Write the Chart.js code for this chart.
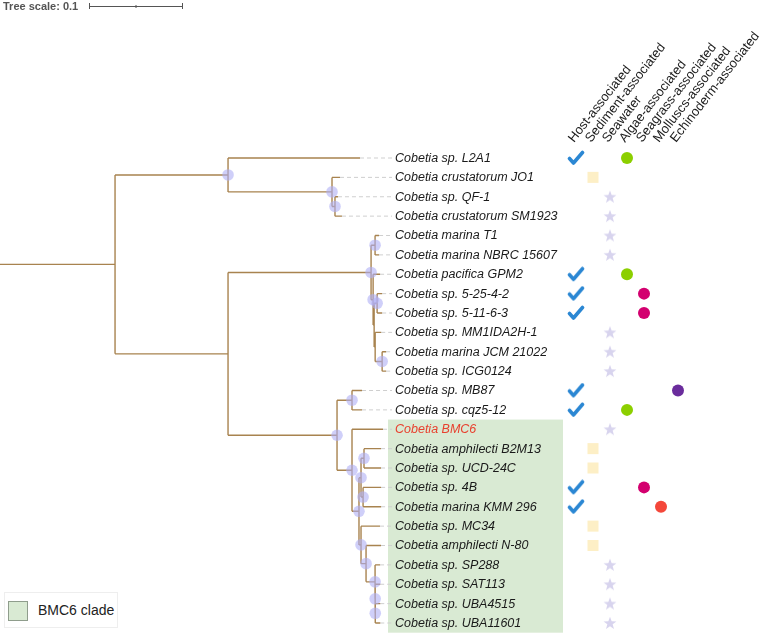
<!DOCTYPE html>
<html>
<head>
<meta charset="utf-8">
<script src="https://cdn.jsdelivr.net/npm/chart.js@4.4.0/dist/chart.umd.min.js"></script>
<style>
  html, body { margin: 0; padding: 0; background: #fff; }
  #wrap { position: relative; width: 760px; height: 637px; }
  #legend { position: absolute; left: 4px; top: 592px; width: 112px; height: 34px; border: 1px solid #eee; background: #fff;
    font: 14px "Liberation Sans", Arial, sans-serif; color: #222; }
  #legend .sw { position: absolute; left: 3px; top: 8px; width: 18px; height: 18px; background: #d9ead3; border: 1px solid #8f9d8c; }
  #legend span { position: absolute; left: 33px; top: 9px; }
</style>
</head>
<body>
<div id="wrap">
  <canvas id="treeChart" width="760" height="637"></canvas>
  <div id="legend"><div class="sw"></div><span>BMC6 clade</span></div>
</div>
<script>
// leaf names, in the order they appear top to bottom
const leafNames = [
  'Cobetia sp. L2A1', 'Cobetia crustatorum JO1', 'Cobetia sp. QF-1', 'Cobetia crustatorum SM1923',
  'Cobetia marina T1', 'Cobetia marina NBRC 15607', 'Cobetia pacifica GPM2', 'Cobetia sp. 5-25-4-2',
  'Cobetia sp. 5-11-6-3', 'Cobetia sp. MM1IDA2H-1', 'Cobetia marina JCM 21022', 'Cobetia sp. ICG0124',
  'Cobetia sp. MB87', 'Cobetia sp. cqz5-12', 'Cobetia BMC6', 'Cobetia amphilecti B2M13',
  'Cobetia sp. UCD-24C', 'Cobetia sp. 4B', 'Cobetia marina KMM 296', 'Cobetia sp. MC34',
  'Cobetia amphilecti N-80', 'Cobetia sp. SP288', 'Cobetia sp. SAT113', 'Cobetia sp. UBA4515',
  'Cobetia sp. UBA11601'
];

const habitatLabels = [
  'Host-associated', 'Sediment-associated', 'Seawater', 'Algae-associated',
  'Seagrass-associated', 'Molluscs-associated', 'Echinoderm-associated'
];

// habitat columns for each leaf
const leafHabitats = [
  [0, 3], [1], [2], [2], [2], [2], [0, 3], [0, 4], [0, 4], [2], [2], [2],
  [0, 6], [0, 3], [2], [1], [1], [0, 4], [0, 5], [1], [1], [2], [2], [2], [2]
];

// tree topology with branch lengths; leaves are indices into leafNames, * = supported node
const treeNewick =
  '(((0:0.1419,(1:0.0086,(2:0.0032,3:0.0075)*:0.0032)*:0.1118)*:0.1215,' +
  '(((4:0.0043,5:0.0043)*:0.0043,(6:0.0075,((7:0.0054,8:0.0054)*:0.0032,(9:0.0065,(10:0.0043,11:0.0043)*:0.0075):0.0011):0.0011)*:0.0022)*:0.1538,' +
  '((12:0.0108,13:0.0108)*:0.0161,(14:0.0333,(((15:0.0183,16:0.0183)*:0.0032,(17:0.0194,18:0.0194)*:0.0022)*:0.0022,' +
  '(19:0.0204,(20:0.0161,(21:0.0054,(22:0.0054,(23:0.0054,24:0.0054)*:0.0001)*:0.0001)*:0.0097)*:0.0054)*:0.0022)*:0.0075)*:0.0161)*:0.1172):0.1215):0.1237';

const highlightLeaf = 14;
const cladeRange = [14, 24];
const treeScaleLength = 0.1;
const guideEnd = 0.4215;

const habitatColors = ['#2b87d3', '#fdefc6', '#d8d4ee', '#8ccf00', '#d3006f', '#f4473a', '#6a2c9c'];

function parseNewick(s) {
  let i = 0;
  function node() {
    const n = { children: [], len: 0, mark: false };
    if (s[i] === '(') {
      i++;
      n.children.push(node());
      while (s[i] === ',') { i++; n.children.push(node()); }
      i++;
    }
    let label = '';
    while (i < s.length && !':,()'.includes(s[i])) label += s[i++];
    if (n.children.length) n.mark = label === '*';
    else n.leaf = parseInt(label, 10);
    if (s[i] === ':') {
      i++;
      let num = '';
      while (i < s.length && !',()'.includes(s[i])) num += s[i++];
      n.len = parseFloat(num);
    }
    return n;
  }
  return node();
}

function layout(n, x0) {
  n.x = x0 + n.len;
  if (n.children.length) {
    n.children.forEach(c => layout(c, n.x));
    n.y = (n.children[0].y + n.children[n.children.length - 1].y) / 2;
  } else {
    n.y = n.leaf;
  }
}

const root = parseNewick(treeNewick);
layout(root, 0);

const branchPts = [], nodePts = [], guidePts = [];
function walk(n, px) {
  branchPts.push({ x: px, y: n.y }, { x: n.x, y: n.y }, { x: null, y: null });
  if (n.children.length) {
    const a = n.children[0], b = n.children[n.children.length - 1];
    branchPts.push({ x: n.x, y: a.y }, { x: n.x, y: b.y }, { x: null, y: null });
    if (n.mark) nodePts.push({ x: n.x, y: n.y });
    n.children.forEach(c => walk(c, n.x));
  } else {
    guidePts.push({ x: n.x, y: n.y }, { x: guideEnd, y: n.y }, { x: null, y: null });
  }
}
walk(root, 0);

// custom marker images
function makeCheck() {
  const c = document.createElement('canvas');
  c.width = 18; c.height = 16;
  const g = c.getContext('2d');
  g.strokeStyle = habitatColors[0];
  g.lineWidth = 3.6;
  g.lineCap = 'round';
  g.lineJoin = 'round';
  g.beginPath();
  g.moveTo(2.5, 8.5);
  g.lineTo(6.5, 13);
  g.lineTo(15.5, 2.5);
  g.stroke();
  return c;
}
function makeStar() {
  const c = document.createElement('canvas');
  c.width = 14; c.height = 14;
  const g = c.getContext('2d');
  g.fillStyle = habitatColors[2];
  g.beginPath();
  for (let k = 0; k < 10; k++) {
    const r = k % 2 ? 2.8 : 6.8;
    const a = -Math.PI / 2 + k * Math.PI / 5;
    g.lineTo(7 + r * Math.cos(a), 7.5 + r * Math.sin(a));
  }
  g.closePath();
  g.fill();
  return c;
}
const checkImg = makeCheck();
const starImg = makeStar();

const markerStyle = [
  { pointStyle: checkImg, pointRadius: 8 },
  { pointStyle: 'rect', pointRadius: 7.8 },
  { pointStyle: starImg, pointRadius: 7 },
  { pointStyle: 'circle', pointRadius: 6 },
  { pointStyle: 'circle', pointRadius: 6 },
  { pointStyle: 'circle', pointRadius: 6 },
  { pointStyle: 'circle', pointRadius: 6 }
];

const habitatDatasets = habitatLabels.map((label, col) => ({
  label: label,
  data: leafHabitats.map((h, i) => h.includes(col) ? { x: col, y: i } : null).filter(Boolean),
  xAxisID: 'xc',
  showLine: false,
  pointStyle: markerStyle[col].pointStyle,
  pointRadius: markerStyle[col].pointRadius,
  pointBackgroundColor: habitatColors[col],
  pointBorderWidth: 0,
  order: 1
}));

const treeDecor = {
  id: 'treeDecor',
  beforeDatasetsDraw(chart) {
    const { ctx, scales: { x, y } } = chart;
    // clade box
    const top = y.getPixelForValue(cladeRange[0] - 0.5);
    const bot = y.getPixelForValue(cladeRange[1] + 0.5);
    ctx.save();
    ctx.fillStyle = '#d9ead3';
    ctx.fillRect(x.getPixelForValue(guideEnd) - 4, top, 175, bot - top);
    ctx.restore();
  },
  afterDatasetsDraw(chart) {
    const { ctx, scales: { x, y, xc } } = chart;
    ctx.save();
    // leaf labels
    ctx.font = 'italic 12.5px "Liberation Sans", Arial, sans-serif';
    ctx.textBaseline = 'middle';
    const lx = x.getPixelForValue(guideEnd) + 3;
    leafNames.forEach((name, i) => {
      ctx.fillStyle = i === highlightLeaf ? '#e8412f' : '#1a1a1a';
      ctx.fillText(name, lx, y.getPixelForValue(i) + 0.5);
    });
    // rotated column headers
    ctx.font = '13px "Liberation Sans", Arial, sans-serif';
    ctx.fillStyle = '#1a1a1a';
    ctx.textBaseline = 'alphabetic';
    habitatLabels.forEach((t, i) => {
      ctx.save();
      ctx.translate(xc.getPixelForValue(i) - 2, 143);
      ctx.rotate(-52 * Math.PI / 180);
      ctx.fillText(t, 0, 0);
      ctx.restore();
    });
    // tree scale
    ctx.font = 'bold 11px "Liberation Sans", Arial, sans-serif';
    ctx.fillStyle = '#555';
    ctx.fillText('Tree scale: ' + treeScaleLength, 3, 10);
    const x0 = 89.5;
    const x1 = x0 + x.getPixelForValue(treeScaleLength) - x.getPixelForValue(0);
    ctx.strokeStyle = '#555';
    ctx.lineWidth = 1;
    ctx.beginPath();
    ctx.moveTo(x0, 6.5); ctx.lineTo(x1, 6.5);
    ctx.moveTo(x0, 3); ctx.lineTo(x0, 9);
    ctx.moveTo(x1, 3); ctx.lineTo(x1, 9);
    ctx.moveTo((x0 + x1) / 2, 5); ctx.lineTo((x0 + x1) / 2, 8);
    ctx.stroke();
    ctx.restore();
  }
};

new Chart(document.getElementById('treeChart'), {
  type: 'scatter',
  data: {
    datasets: [
      {
        label: 'nodes',
        data: nodePts,
        pointRadius: 5.8,
        pointBackgroundColor: 'rgba(175,175,245,0.6)',
        pointBorderWidth: 0,
        showLine: false,
        order: 0
      },
      ...habitatDatasets,
      {
        label: 'branches',
        data: branchPts,
        showLine: true,
        spanGaps: false,
        borderColor: '#a8834f',
        borderWidth: 1.4,
        pointRadius: 0,
        order: 2
      },
      {
        label: 'guides',
        data: guidePts,
        showLine: true,
        spanGaps: false,
        borderColor: '#cfcfcf',
        borderWidth: 1,
        borderDash: [4, 3],
        pointRadius: 0,
        order: 3
      }
    ]
  },
  options: {
    responsive: false,
    animation: false,
    events: [],
    layout: { padding: 0, autoPadding: false },
    plugins: { legend: { display: false }, tooltip: { enabled: false } },
    scales: {
      x: { type: 'linear', display: false, min: 0, max: 760 / 930 },
      xc: { type: 'linear', display: false, min: -576 / 17, max: (760 - 576) / 17 },
      y: { type: 'linear', display: false, reverse: true, min: -158 / 19.375, max: (637 - 158) / 19.375 }
    }
  },
  plugins: [treeDecor]
});
</script>
</body>
</html>
